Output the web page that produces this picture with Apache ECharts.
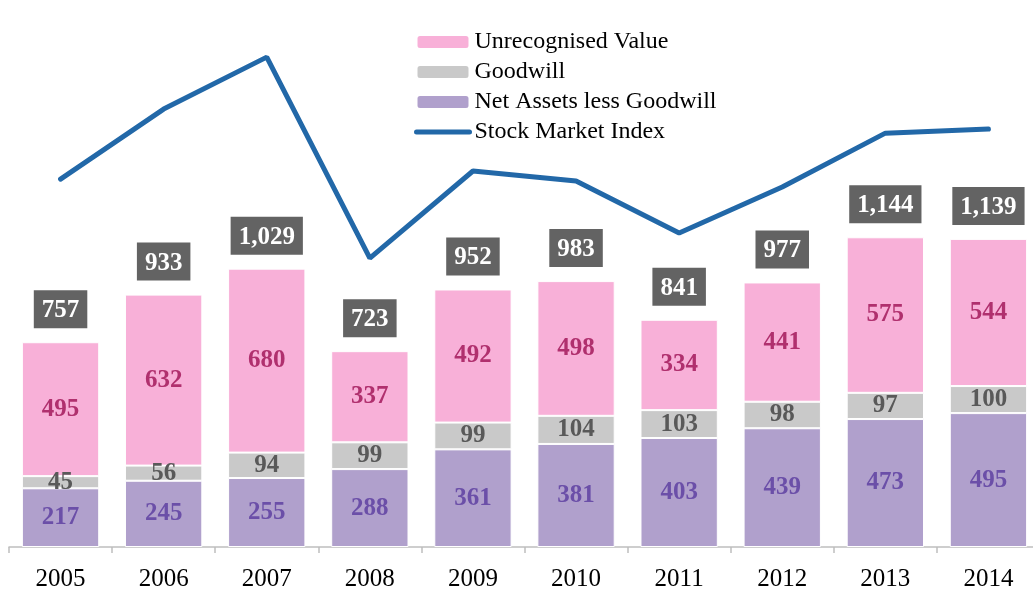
<!DOCTYPE html>
<html><head><meta charset="utf-8">
<script src="https://cdn.jsdelivr.net/npm/echarts@6/dist/echarts.min.js"></script>
<style>html,body{margin:0;padding:0;background:#fff}#c{width:1033px;height:594px}</style>
</head><body><div id="c"></div>
<script>
var years = ['2005','2006','2007','2008','2009','2010','2011','2012','2013','2014'];
var netAssets = [217,245,255,288,361,381,403,439,473,495];
var goodwill = [45,56,94,99,99,104,103,98,97,100];
var unrecognised = [495,632,680,337,492,498,334,441,575,544];
var totals = [757,933,1029,723,952,983,841,977,1144,1139];
var stockIndex = [1360,1619,1811,1068,1390,1353,1161,1331,1530,1545];

var FONT = '"Liberation Serif","Times New Roman",serif';
var chart = echarts.init(document.getElementById('c'));
function segLabel(color){
  return {show:true, position:'inside', color:color, fontFamily:FONT, fontSize:25, fontWeight:'bold'};
}
chart.setOption({
  animation:false,
  grid:{left:9, width:1031, top:6, bottom:47, containLabel:false, outerBoundsMode:'none'},
  legend:{
    orient:'vertical', left:409, top:25, itemWidth:53, itemHeight:14, itemGap:6,
    textStyle:{fontFamily:FONT, fontSize:24, color:'#000'},
    data:['Unrecognised Value','Goodwill','Net Assets less Goodwill',
      {name:'Stock Market Index', itemStyle:{color:'transparent', borderWidth:0, opacity:0}, lineStyle:{width:5, cap:'round', color:'#2268A8'}}]
  },
  xAxis:{
    type:'category', data:years,
    axisLine:{lineStyle:{color:'#BFBFBF', width:1.5}},
    axisTick:{show:true, length:6, lineStyle:{color:'#BFBFBF', width:1.5}},
    axisLabel:{fontFamily:FONT, fontSize:25, color:'#000', margin:20}
  },
  yAxis:{type:'value', min:0, max:2000, show:false, splitLine:{show:false}},
  series:[
    {name:'Net Assets less Goodwill', type:'bar', stack:'s', data:netAssets, barWidth:'75%',
     itemStyle:{color:'#B0A0CC', borderColor:'#fff', borderWidth:1}, label:segLabel('#6B4FA8')},
    {name:'Goodwill', type:'bar', stack:'s', data:goodwill,
     itemStyle:{color:'#C9C9C9', borderColor:'#fff', borderWidth:1}, label:segLabel('#595959')},
    {name:'Unrecognised Value', type:'bar', stack:'s', data:unrecognised,
     itemStyle:{color:'#F8B0D8', borderColor:'#fff', borderWidth:1}, label:segLabel('#B0306E')},
    {name:'Total', type:'bar', stack:'s', data:totals.map(function(){return 0;}),
     itemStyle:{color:'transparent'},
     label:{show:true, position:'top', distance:14, color:'#fff', fontFamily:FONT, fontSize:25, fontWeight:'bold',
       backgroundColor:'#636363', padding:[8,8,5,8],
       formatter:function(p){return totals[p.dataIndex].toLocaleString('en-US');}}},
    {name:'Stock Market Index', type:'line', data:stockIndex, symbol:'none', z:5,
     lineStyle:{color:'#2268A8', width:5, cap:'round'}, itemStyle:{color:'#2268A8'}}
  ]
});
</script></body></html>
